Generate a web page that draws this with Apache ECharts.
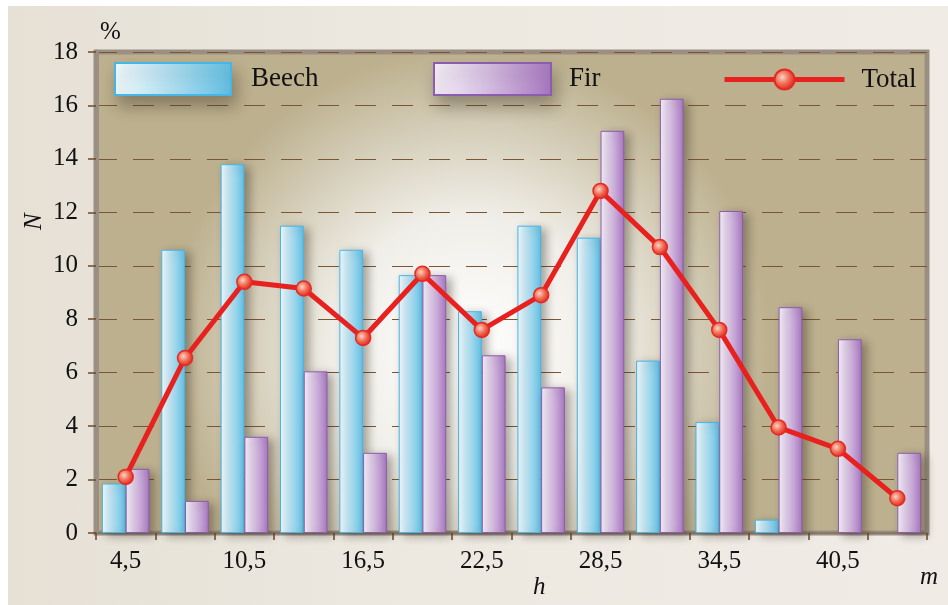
<!DOCTYPE html>
<html>
<head>
<meta charset="utf-8">
<script src="https://cdn.jsdelivr.net/npm/echarts@6/dist/echarts.min.js"></script>
<style>
html,body{margin:0;padding:0;background:#fff;}
#bg{position:absolute;left:8px;top:6px;width:940px;height:599px;
  background:linear-gradient(90deg,#e6e0d5 0%,#ede9e1 45%,#f0ece5 100%);}
#chart{position:absolute;left:0;top:0;width:948px;height:605px;}
</style>
</head>
<body>
<div id="bg"></div>
<div id="chart"></div>
<script>
// height classes, m
var categories = ['4,5','7,5','10,5','13,5','16,5','19,5','22,5','25,5','28,5','31,5','34,5','37,5','40,5','43,5'];
// share of trees, % (no beech in the two top classes)
var beech = [1.85, 10.6, 13.8, 11.5, 10.6, 9.65, 8.3, 11.5, 11.05, 6.45, 4.15, 0.5, null, null];
var fir   = [2.4, 1.2, 3.6, 6.05, 3.0, 9.65, 6.65, 5.45, 15.05, 16.25, 12.05, 8.45, 7.25, 3.0];
var total = [2.1, 6.55, 9.4, 9.15, 7.3, 9.7, 7.6, 8.9, 12.8, 10.7, 7.6, 3.95, 3.15, 1.3];

var serif = 'Liberation Serif';
var chart = echarts.init(document.getElementById('chart'));

function grad(a, b, c){
	return new echarts.graphic.LinearGradient(0,0,1,0,[
		{offset:0,color:a},{offset:0.45,color:b},{offset:1,color:c}
	]);
}

var legendShadow = {shadowBlur: 16, shadowOffsetX: 4, shadowOffsetY: 10, shadowColor: 'rgba(40,30,20,0.35)'};

var option = {
	backgroundColor: 'transparent',
	animation: false,
	grid: {
		left: 96, right: 21, top: 52, bottom: 72,
		show: true,
		borderColor: '#9b8f84',
		borderWidth: 5,
		backgroundColor: new echarts.graphic.RadialGradient(0.45,0.62,0.62,[
			{offset:0,color:'#ffffff'},
			{offset:0.45,color:'#f0eee8'},
			{offset:1,color:'#bcb08e'}
		])
	},
	legend: [
		{
			data: ['Beech'], left: 114, top: 62, padding: 0, icon: 'rect',
			itemWidth: 116, itemHeight: 32,
			itemStyle: legendShadow,
			textStyle: {fontFamily: serif, fontSize: 27, color: '#111', padding: [0,0,0,15]}
		},
		{
			data: ['Fir'], left: 433, top: 62, padding: 0, icon: 'rect',
			itemWidth: 117, itemHeight: 32,
			itemStyle: legendShadow,
			textStyle: {fontFamily: serif, fontSize: 27, color: '#111', padding: [0,0,0,13]}
		},
		{
			data: ['Total'], left: 722, top: 66, padding: 0,
			itemWidth: 120, itemHeight: 25,
			lineStyle: {width: 5, color: '#e8201e'},
			textStyle: {fontFamily: serif, fontSize: 27, color: '#111', padding: [0,0,0,12]}
		}
	],
	xAxis: {
		type: 'category',
		data: categories,
		axisLine: {lineStyle: {color: '#8a7a68', width: 2}},
		axisTick: {show: true, interval: 0, length: 7, lineStyle: {color: '#6b4a2a', width: 1.5}},
		axisLabel: {interval: 1, margin: 16, fontFamily: serif, fontSize: 25, color: '#111'},
		splitLine: {show: false}
	},
	yAxis: {
		type: 'value',
		min: 0, max: 18, interval: 2,
		axisLine: {show: true, lineStyle: {color: '#9b8f84', width: 5}},
		axisTick: {show: true, length: 8, lineStyle: {color: '#6b4a2a', width: 1.5}},
		axisLabel: {margin: 18, fontFamily: serif, fontSize: 25, color: '#111'},
		splitLine: {lineStyle: {color: '#7b5633', width: 1.2, type: [21,16]}}
	},
	graphic: [
		{type:'text', left: 100, top: 20, style:{text:'%', font:'25px "Liberation Serif"', fill:'#111'}},
		{type:'text', x: 22, y: 230, rotation: Math.PI/2, style:{text:'N', font:'italic 25px "Liberation Serif"', fill:'#111'}},
		{type:'text', left: 533, top: 575, style:{text:'h', font:'italic 25px "Liberation Serif"', fill:'#111'}},
		{type:'text', left: 920, top: 565, style:{text:'m', font:'italic 25px "Liberation Serif"', fill:'#111'}}
	],
	series: [
		{
			name: 'Beech', type: 'bar', data: beech,
			barGap: '0%', barCategoryGap: '20%',
			itemStyle: {
				color: grad('#f3fbfe','#b4e0f1','#62c0e4'),
				borderColor: '#46b6e6', borderWidth: 1,
				shadowBlur: 10, shadowOffsetX: 5, shadowOffsetY: 3, shadowColor: 'rgba(50,40,30,0.4)'
			}
		},
		{
			name: 'Fir', type: 'bar', data: fir,
			barGap: '0%', barCategoryGap: '20%',
			itemStyle: {
				color: grad('#f6f0f9','#d6bfe2','#a878c0'),
				borderColor: '#8c5cae', borderWidth: 1,
				shadowBlur: 10, shadowOffsetX: 5, shadowOffsetY: 3, shadowColor: 'rgba(50,40,30,0.4)'
			}
		},
		{
			name: 'Total', type: 'line', data: total,
			symbol: 'circle', symbolSize: 15,
			lineStyle: {color: '#e8201e', width: 5},
			itemStyle: {
				color: new echarts.graphic.RadialGradient(0.4,0.4,0.6,[
					{offset:0,color:'#fbd3c6'},
					{offset:0.5,color:'#f07058'},
					{offset:1,color:'#e0261c'}
				]),
				borderColor: '#e52a22', borderWidth: 1.5
			},
			z: 5
		}
	]
};

chart.setOption(option);
</script>
</body>
</html>
